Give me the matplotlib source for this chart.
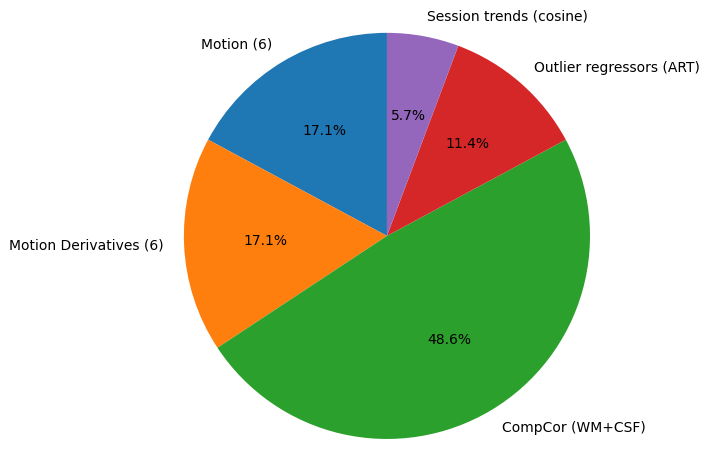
import matplotlib
matplotlib.use("Agg")
import matplotlib.pyplot as plt

labels = ['Motion (6)', 'Motion Derivatives (6)', 'CompCor (WM+CSF)',
          'Outlier regressors (ART)', 'Session trends (cosine)']
counts = [6, 6, 17, 4, 2]

fig = plt.figure(figsize=(7.1, 4.69), dpi=100)
ax = fig.add_axes([0.259, 0.064, 0.572, 0.866])
ax.pie(counts, labels=labels, autopct='%1.1f%%', startangle=90)
ax.set_xlim(-1, 1)
ax.set_ylim(-1, 1)
ax.set_aspect('equal')
fig.savefig('out.png', dpi=100)
